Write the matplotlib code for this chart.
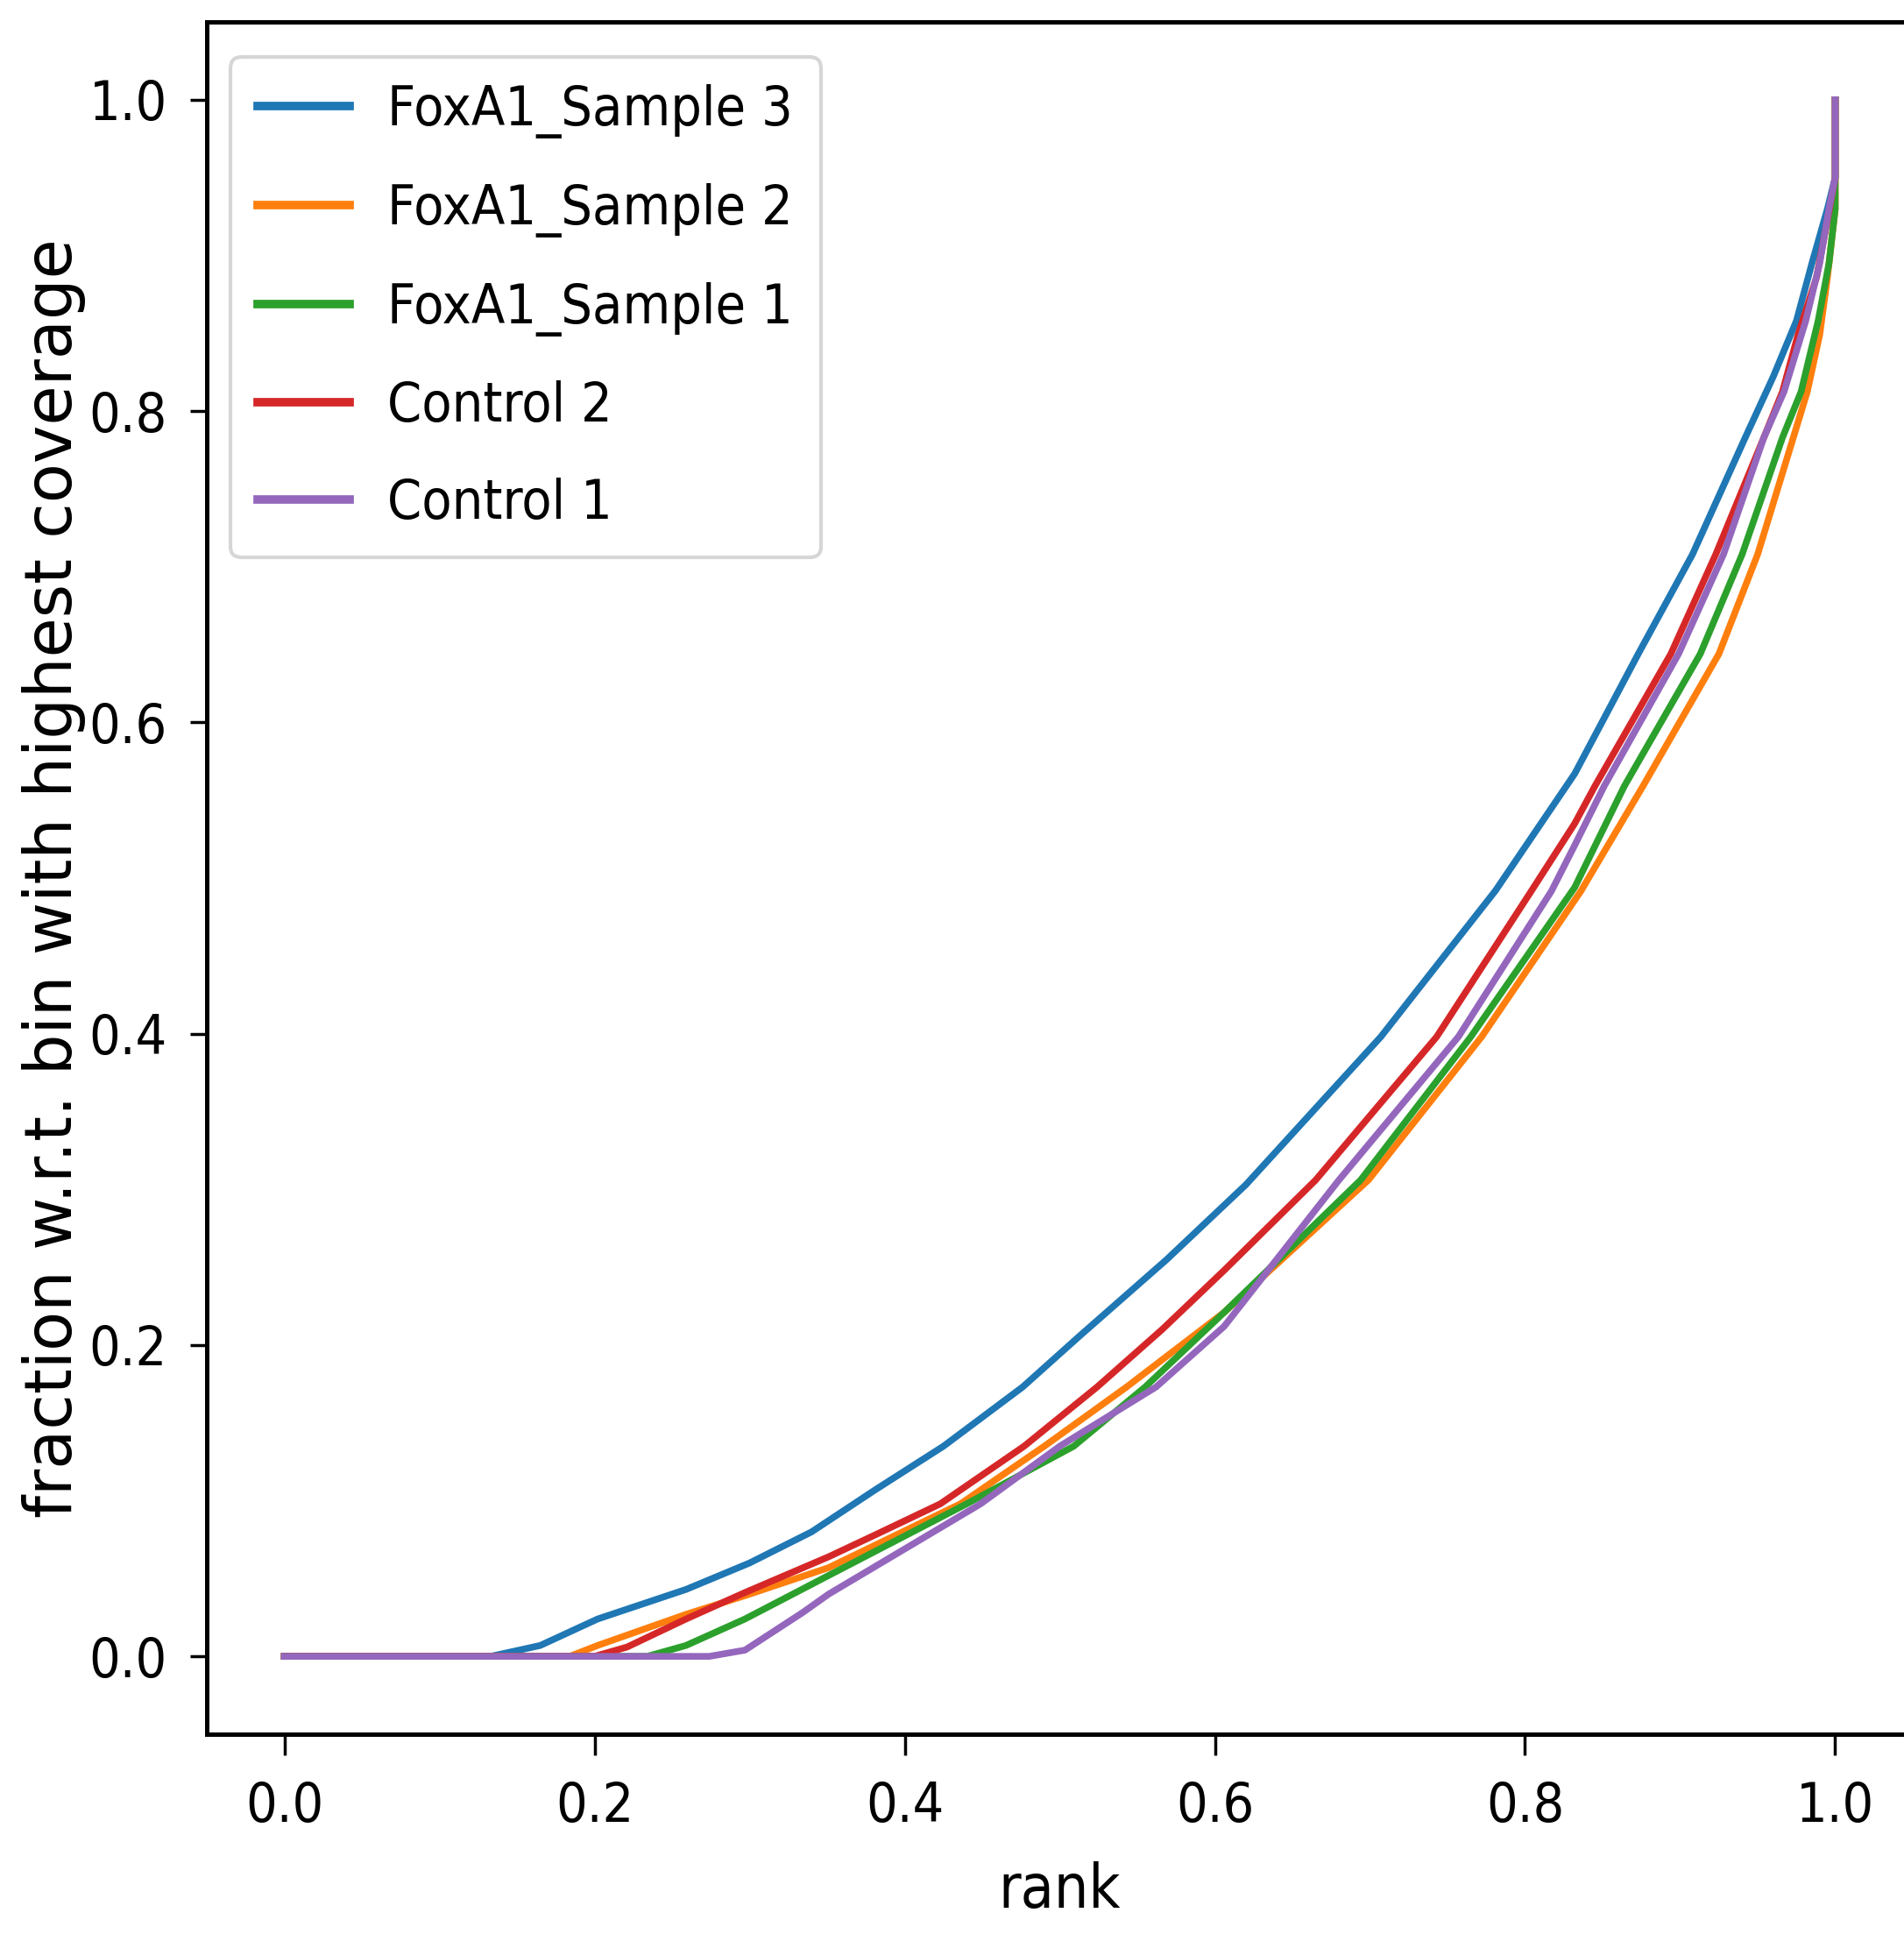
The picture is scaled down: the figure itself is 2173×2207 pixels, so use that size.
import matplotlib
matplotlib.use("Agg")
import matplotlib.pyplot as plt

# ---- data ----
labels = ["FoxA1_Sample 3", "FoxA1_Sample 2", "FoxA1_Sample 1", "Control 2", "Control 1"]

fox3_x = [0, 0.133, 0.165, 0.202, 0.259, 0.300, 0.340, 0.381, 0.425, 0.476, 0.513, 0.569,
          0.620, 0.707, 0.781, 0.832, 0.873, 0.908, 0.942, 0.960, 0.975, 0.985, 0.995, 1.0, 1.0]
fox3_y = [0, 0, 0.007, 0.024, 0.043, 0.060, 0.080, 0.107, 0.135, 0.173, 0.206, 0.255,
          0.303, 0.398, 0.492, 0.567, 0.644, 0.708, 0.783, 0.822, 0.858, 0.895, 0.93, 0.95, 1.0]

fox2_x = [0, 0.184, 0.202, 0.259, 0.297, 0.351, 0.436, 0.490, 0.543, 0.606, 0.699, 0.772,
          0.836, 0.876, 0.925, 0.950, 0.973, 0.982, 0.990, 0.995, 1.0, 1.0]
fox2_y = [0, 0, 0.007, 0.027, 0.039, 0.057, 0.098, 0.135, 0.173, 0.221, 0.306, 0.398,
          0.4916, 0.559, 0.644, 0.708, 0.783, 0.8125, 0.849, 0.886, 0.93, 1.0]

fox1_x = [0, 0.234, 0.259, 0.297, 0.351, 0.440, 0.509, 0.555, 0.589, 0.606, 0.694, 0.765,
          0.832, 0.864, 0.913, 0.940, 0.966, 0.978, 0.989, 0.996, 1.0, 1.0]
fox1_y = [0, 0, 0.007, 0.024, 0.052, 0.098, 0.135, 0.173, 0.205, 0.221, 0.306, 0.398,
          0.494, 0.559, 0.644, 0.708, 0.783, 0.8125, 0.858, 0.895, 0.93, 1.0]

ctrl2_x = [0, 0.200, 0.221, 0.259, 0.297, 0.351, 0.383, 0.423, 0.477, 0.524, 0.566, 0.606,
           0.665, 0.743, 0.804, 0.832, 0.845, 0.894, 0.923, 0.954, 0.966, 0.976, 0.988,
           0.995, 1.0, 1.0]
ctrl2_y = [0, 0, 0.006, 0.024, 0.041, 0.064, 0.079, 0.098, 0.135, 0.173, 0.210, 0.248,
           0.306, 0.398, 0.4916, 0.535, 0.559, 0.644, 0.708, 0.783, 0.8125, 0.849, 0.886,
           0.923, 0.95, 1.0]

ctrl1_x = [0, 0.274, 0.297, 0.334, 0.351, 0.449, 0.500, 0.562, 0.606, 0.680, 0.757, 0.817,
           0.832, 0.851, 0.899, 0.928, 0.954, 0.967, 0.981, 0.990, 0.996, 1.0, 1.0]
ctrl1_y = [0, 0, 0.004, 0.028, 0.040, 0.098, 0.135, 0.173, 0.212, 0.306, 0.398, 0.4916,
           0.521, 0.559, 0.644, 0.708, 0.783, 0.8125, 0.858, 0.895, 0.93, 0.95, 1.0]

series = [(fox3_x, fox3_y), (fox2_x, fox2_y), (fox1_x, fox1_y), (ctrl2_x, ctrl2_y), (ctrl1_x, ctrl1_y)]
colors = ["#1f77b4", "#ff7f0e", "#2ca02c", "#d62728", "#9467bd"]

xticks = [0.0, 0.2, 0.4, 0.6, 0.8, 1.0]
yticks = [0.0, 0.2, 0.4, 0.6, 0.8, 1.0]

cond = dict(family="DejaVu Sans", stretch="condensed")

fig = plt.figure(figsize=(21.73, 22.07), dpi=100)
ax = fig.add_axes([0.10861, 0.10331, 0.89599, 0.88536])

for (xs, ys), lab, col in zip(series, labels, colors):
    ax.plot(xs, ys, color=col, lw=5.5, label=lab)

ax.set_xlim(-0.05, 1.05)
ax.set_ylim(-0.05, 1.05)
ax.set_xticks(xticks)
ax.set_yticks(yticks)
ax.set_xticklabels([f"{v:.1f}" for v in xticks], fontsize=45, **cond)
ax.set_yticklabels([f"{v:.1f}" for v in yticks], fontsize=45, **cond)
ax.tick_params(axis="x", length=17, width=2.5, pad=21)
ax.tick_params(axis="y", length=13.7, width=2.5, pad=19)
for sp in ax.spines.values():
    sp.set_linewidth(3.6)

ax.set_xlabel("rank", fontsize=50, **cond)
ax.xaxis.set_label_coords(0.5, -0.0742)
ax.set_ylabel("fraction w.r.t. bin with highest coverage", family="DejaVu Sans", fontsize=53)
ax.yaxis.set_label_coords(-0.071, 0.5)

leg = ax.legend(loc="upper left", bbox_to_anchor=(0.0139, 0.9795), borderaxespad=0,
                prop=dict(size=45, **cond), handlelength=1.67,
                handletextpad=0.7, labelspacing=0.81, borderpad=0.5, framealpha=0.8)
leg.get_frame().set_linewidth(3)
for line in leg.get_lines():
    line.set_linewidth(7)

fig.savefig("out.png", dpi=100)
